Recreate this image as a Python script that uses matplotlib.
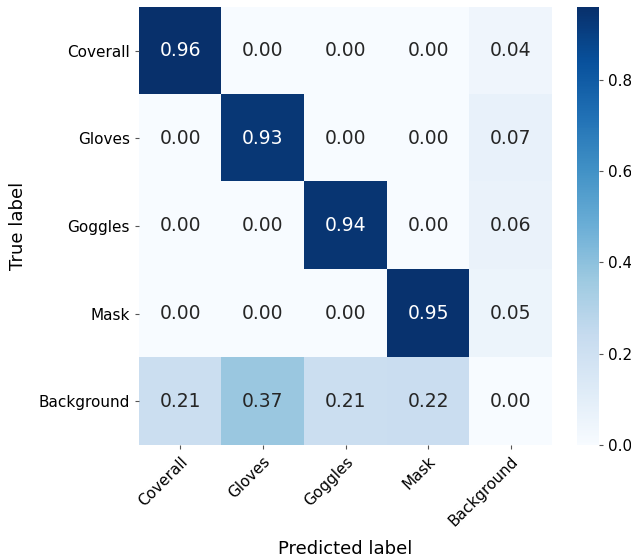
import numpy as np
import matplotlib.pyplot as plt

clases = ["Coverall", "Gloves", "Goggles", "Mask", "Background"]
fila_coverall = [0.96, 0.00, 0.00, 0.00, 0.04]
fila_gloves = [0.00, 0.93, 0.00, 0.00, 0.07]
fila_goggles = [0.00, 0.00, 0.94, 0.00, 0.06]
fila_mask = [0.00, 0.00, 0.00, 0.95, 0.05]
fila_background = [0.21, 0.37, 0.21, 0.22, 0.00]

matriz = np.array([fila_coverall, fila_gloves, fila_goggles, fila_mask, fila_background])

fig = plt.figure(figsize=(6.31, 5.58), dpi=100)
ax = fig.add_axes([0.2203, 0.2025, 0.6545, 0.785])
cax = fig.add_axes([0.9144, 0.2025, 0.035, 0.785])

img = ax.imshow(matriz, cmap="Blues", aspect="auto", vmin=0, vmax=matriz.max())

# valores dentro de cada celda
for i in range(len(clases)):
    for j in range(len(clases)):
        v = matriz[i, j]
        color = "white" if v > 0.5 else "#262626"
        ax.text(j, i, f"{v:.2f}", ha="center", va="center", fontsize=13.5, color=color)

ax.set_xticks(range(len(clases)))
ax.set_yticks(range(len(clases)))
ax.set_xticklabels(clases, rotation=45, ha="right", rotation_mode="anchor", fontsize=11)
ax.set_yticklabels(clases, fontsize=11)
ax.tick_params(length=3, color="#555555")
for s in ax.spines.values():
    s.set_visible(False)
ax.set_xlabel("Predicted label", fontsize=13, labelpad=8)
ax.set_ylabel("True label", fontsize=13, labelpad=8)

cb = fig.colorbar(img, cax=cax)
cb.outline.set_visible(False)
cb.set_ticks([0.0, 0.2, 0.4, 0.6, 0.8])
cb.ax.tick_params(labelsize=11, length=3, color="#555555")

plt.savefig("out.png", dpi=100)
